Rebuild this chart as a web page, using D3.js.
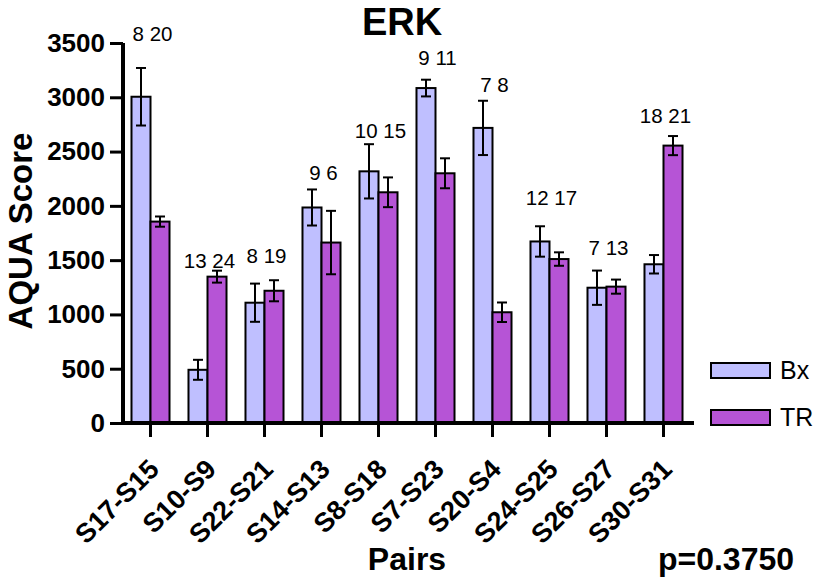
<!DOCTYPE html>
<html>
<head>
<meta charset="utf-8">
<script src="https://cdn.jsdelivr.net/npm/d3@7"></script>
<style>
  html, body { margin: 0; padding: 0; background: #fff; }
  svg { display: block; font-family: "Liberation Sans", Arial, sans-serif; }
</style>
</head>
<body>
<svg id="chart" width="818" height="578"></svg>
<script>
// ---- data ----
const pairs = ["S17-S15","S10-S9","S22-S21","S14-S13","S8-S18","S7-S23","S20-S4","S24-S25","S26-S27","S30-S31"];
const series = ["Bx","TR"];
const bxMean = [3005, 490, 1108, 1985, 2318, 3085, 2718, 1672, 1246, 1462];
const bxErr  = [265, 92, 176, 166, 250, 77, 250, 140, 158, 85];
const trMean = [1855, 1348, 1218, 1662, 2125, 2300, 1020, 1510, 1256, 2555];
const trErr  = [47, 55, 97, 292, 137, 138, 90, 62, 65, 88];
const nBx = [8, 13, 8, 9, 10, 9, 7, 12, 7, 18];
const nTR = [20, 24, 19, 6, 15, 11, 8, 17, 13, 21];
const nLabelAt = [3521, 1428, 1474, 2238, 2625, 3297, 3049, 2008, 1547, 2763];
const yTicks = [0, 500, 1000, 1500, 2000, 2500, 3000, 3500];
const colors = {Bx: "#BFBFFF", TR: "#B654D6"};
const title = "ERK", yTitle = "AQUA Score", xTitle = "Pairs", pText = "p=0.3750";

// ---- chart ----
const svg = d3.select("#chart");
const y = d3.scaleLinear().domain([0, 3500]).range([423, 43]);
const x = d3.scaleBand().domain(pairs).range([122, 692]).paddingInner(0.333).paddingOuter(0.1665);
const xs = d3.scaleBand().domain(series).range([0, x.bandwidth()]);

const rows = pairs.map((p, i) => ({
  pair: p,
  vals: [
    {s: "Bx", m: bxMean[i], e: bxErr[i]},
    {s: "TR", m: trMean[i], e: trErr[i]}
  ],
  label: nBx[i] + " " + nTR[i],
  ly: nLabelAt[i]
}));

const g = svg.append("g");
const grp = g.selectAll("g.grp").data(rows).join("g")
  .attr("transform", d => `translate(${x(d.pair)},0)`);

grp.selectAll("rect").data(d => d.vals).join("rect")
  .attr("x", d => xs(d.s))
  .attr("y", d => y(d.m))
  .attr("width", xs.bandwidth())
  .attr("height", d => y(0) - y(d.m))
  .attr("fill", d => colors[d.s])
  .attr("stroke", "#000")
  .attr("stroke-width", 2);

const eb = grp.selectAll("g.err").data(d => d.vals).join("g")
  .attr("stroke", "#000").attr("stroke-width", 2);
eb.append("line")
  .attr("x1", d => xs(d.s) + xs.bandwidth()/2).attr("x2", d => xs(d.s) + xs.bandwidth()/2)
  .attr("y1", d => y(d.m + d.e)).attr("y2", d => y(d.m - d.e));
eb.append("line")
  .attr("x1", d => xs(d.s) + xs.bandwidth()/2 - 5).attr("x2", d => xs(d.s) + xs.bandwidth()/2 + 5)
  .attr("y1", d => y(d.m + d.e)).attr("y2", d => y(d.m + d.e));
eb.append("line")
  .attr("x1", d => xs(d.s) + xs.bandwidth()/2 - 5).attr("x2", d => xs(d.s) + xs.bandwidth()/2 + 5)
  .attr("y1", d => y(d.m - d.e)).attr("y2", d => y(d.m - d.e));

grp.append("text")
  .attr("x", x.bandwidth()/2 + 2)
  .attr("y", d => y(d.ly))
  .attr("text-anchor", "middle")
  .attr("font-size", 20.5)
  .text(d => d.label);

// y axis
const yAxis = g.append("g").attr("transform", "translate(123,0)")
  .call(d3.axisLeft(y).tickValues(yTicks).tickSize(13).tickPadding(5).tickFormat(d3.format("d")));
yAxis.select(".domain").attr("stroke-width", 4).attr("d", `M0,${y(3500)}V${y(0)+2}`);
yAxis.selectAll(".tick line").attr("stroke-width", 3);
yAxis.selectAll(".tick text").attr("font-size", 26).attr("font-weight", "bold")
  .attr("font-family", "Liberation Sans, Arial, sans-serif").attr("fill", "#000");

// x axis
const xAxis = g.append("g").attr("transform", "translate(0,423)")
  .call(d3.axisBottom(x).tickSize(14).tickPadding(0));
xAxis.select(".domain").attr("stroke-width", 4).attr("d", "M121,0H694");
xAxis.selectAll(".tick line").attr("stroke-width", 3);
xAxis.selectAll(".tick text")
  .attr("font-size", 27).attr("font-weight", "bold")
  .attr("font-family", "Liberation Sans, Arial, sans-serif").attr("fill", "#000")
  .attr("text-anchor", "end")
  .attr("dy", null).attr("y", null)
  .attr("transform", "translate(10,48) rotate(-45)");

// titles
svg.append("text").attr("x", 402).attr("y", 35).attr("text-anchor", "middle")
  .attr("font-size", 38).attr("font-weight", "bold").text(title);
svg.append("text").attr("transform", "translate(32,231) rotate(-90)").attr("text-anchor", "middle")
  .attr("font-size", 33).attr("font-weight", "bold").text(yTitle);
svg.append("text").attr("x", 407).attr("y", 570).attr("text-anchor", "middle")
  .attr("font-size", 32).attr("font-weight", "bold").text(xTitle);
svg.append("text").attr("x", 726).attr("y", 570).attr("text-anchor", "middle")
  .attr("font-size", 32).attr("font-weight", "bold").text(pText);

// legend
const leg = svg.append("g").selectAll("g").data(series).join("g")
  .attr("transform", (d, i) => `translate(711,${363 + i * 47})`);
leg.append("rect").attr("width", 59).attr("height", 15)
  .attr("fill", d => colors[d]).attr("stroke", "#000").attr("stroke-width", 2);
leg.append("text").attr("x", 69).attr("y", 16).attr("font-size", 25).text(d => d);
</script>
</body>
</html>
